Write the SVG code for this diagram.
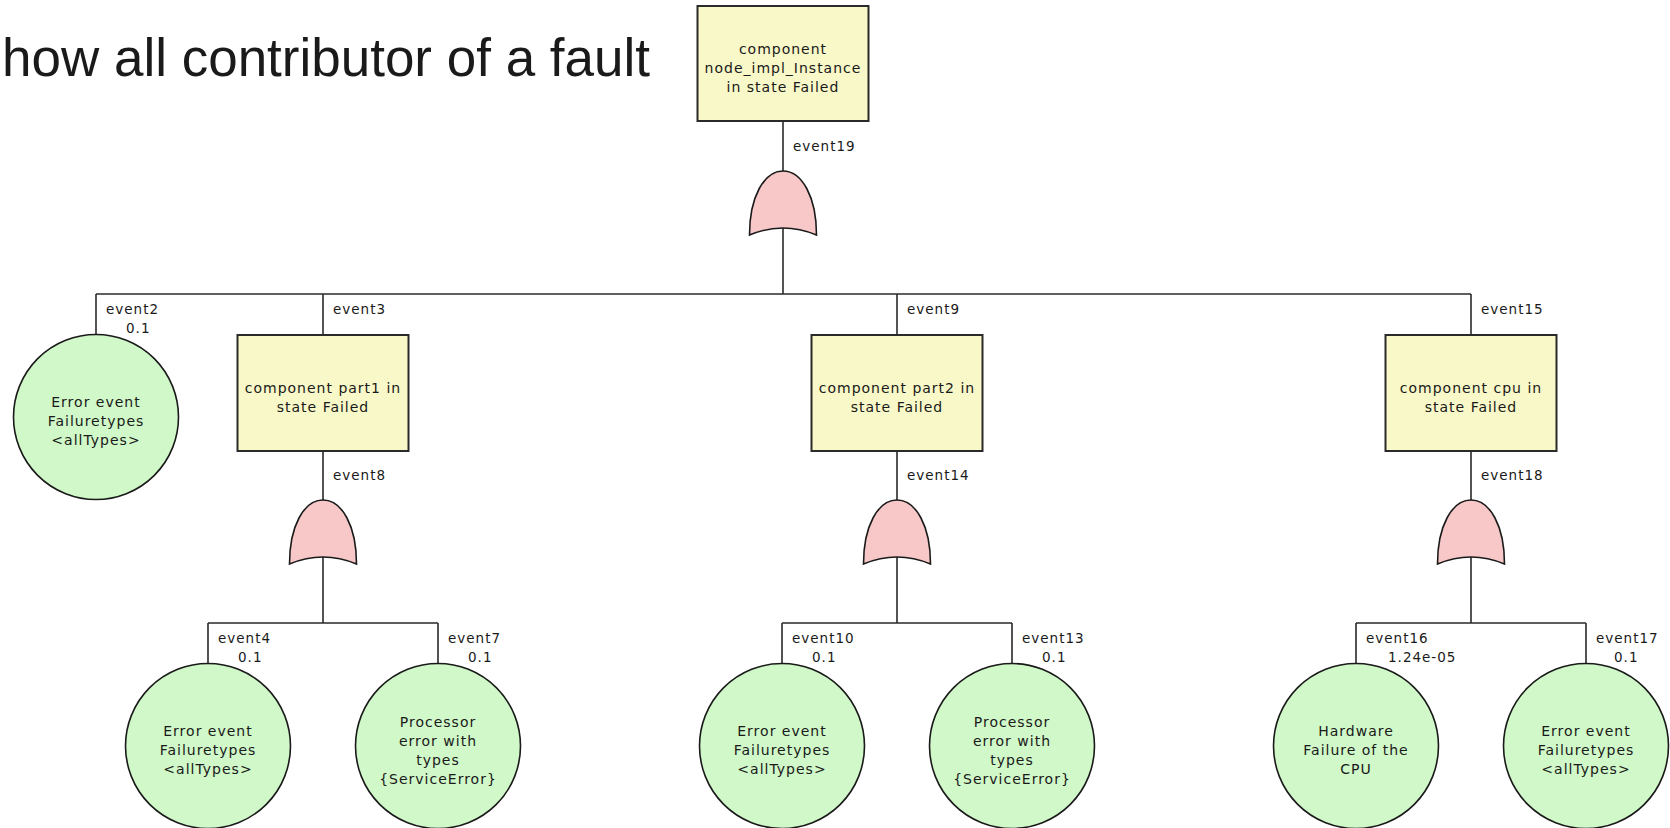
<svg xmlns="http://www.w3.org/2000/svg" width="1670" height="828" viewBox="0 0 1670 828">
  <style>
    .title { font-family: "Liberation Sans", Arial, sans-serif; font-size: 54px; fill: #1a1a1a; }
    .conn { fill: none; stroke: #2a2a2a; stroke-width: 1.6; }
    .box { fill: #f8f8c8; stroke: #2a2a2a; stroke-width: 2; }
    .basic { fill: #d0f8c8; stroke: #1a1a1a; stroke-width: 1.6; }
    .gate { fill: #f8c8c8; stroke: #1a1a1a; stroke-width: 1.6; }
    .node-text { font-family: "DejaVu Sans", Verdana, sans-serif; font-size: 14px; letter-spacing: 1px; fill: #1a1a1a; text-anchor: middle; }
    .lbl { font-family: "DejaVu Sans", Verdana, sans-serif; font-size: 13.5px; letter-spacing: 1px; fill: #1a1a1a; }
  </style>
  <defs>
    <!-- OR gate symbol, origin at the apex -->
    <path id="or-gate" d="M -33.5,64 C -33.5,26 -19,0 0,0 C 19,0 33.5,26 33.5,64 Q 0,50 -33.5,64 Z"/>
  </defs>

  <rect width="1670" height="828" fill="#ffffff"/>

  <text class="title" x="2" y="76" textLength="648" lengthAdjust="spacingAndGlyphs">how all contributor of a fault</text>

  <!-- connectors -->
  <g id="connectors" class="conn">
    <path d="M783,121 V294"/>
    <path d="M96,294 H1471"/>
    <path d="M96,294 V335"/>
    <path d="M323,294 V335"/>
    <path d="M897,294 V335"/>
    <path d="M1471,294 V335"/>

    <path d="M323,451 V623 M208,623 H438 M208,623 V664 M438,623 V664"/>
    <path d="M897,451 V623 M782,623 H1012 M782,623 V664 M1012,623 V664"/>
    <path d="M1471,451 V623 M1356,623 H1586 M1356,623 V664 M1586,623 V664"/>
  </g>

  <!-- top event -->
  <g id="event19">
    <rect class="box" x="697.5" y="6" width="171" height="115"/>
    <text class="node-text" x="783" y="53.5">component</text>
    <text class="node-text" x="783" y="72.5">node_impl_Instance</text>
    <text class="node-text" x="783" y="91.5">in state Failed</text>
    <text class="lbl" x="793" y="151">event19</text>
    <use href="#or-gate" class="gate" x="783" y="171"/>
  </g>

  <g id="event2">
    <circle class="basic" cx="96" cy="417" r="82.5"/>
    <text class="node-text" x="96" y="407">Error event</text>
    <text class="node-text" x="96" y="426">Failuretypes</text>
    <text class="node-text" x="96" y="445">&lt;allTypes&gt;</text>
    <text class="lbl" x="106" y="314">event2</text>
    <text class="lbl" x="126" y="333">0.1</text>
  </g>

  <g id="event3">
    <rect class="box" x="237.5" y="335" width="171" height="116"/>
    <text class="node-text" x="323" y="392.5">component part1 in</text>
    <text class="node-text" x="323" y="411.5">state Failed</text>
    <text class="lbl" x="333" y="314">event3</text>
    <text class="lbl" x="333" y="480">event8</text>
    <use href="#or-gate" class="gate" x="323" y="500"/>
  </g>

  <g id="event9">
    <rect class="box" x="811.5" y="335" width="171" height="116"/>
    <text class="node-text" x="897" y="392.5">component part2 in</text>
    <text class="node-text" x="897" y="411.5">state Failed</text>
    <text class="lbl" x="907" y="314">event9</text>
    <text class="lbl" x="907" y="480">event14</text>
    <use href="#or-gate" class="gate" x="897" y="500"/>
  </g>

  <g id="event15">
    <rect class="box" x="1385.5" y="335" width="171" height="116"/>
    <text class="node-text" x="1471" y="392.5">component cpu in</text>
    <text class="node-text" x="1471" y="411.5">state Failed</text>
    <text class="lbl" x="1481" y="314">event15</text>
    <text class="lbl" x="1481" y="480">event18</text>
    <use href="#or-gate" class="gate" x="1471" y="500"/>
  </g>

  <g id="event4">
    <circle class="basic" cx="208" cy="746" r="82.5"/>
    <text class="node-text" x="208" y="736">Error event</text>
    <text class="node-text" x="208" y="755">Failuretypes</text>
    <text class="node-text" x="208" y="774">&lt;allTypes&gt;</text>
    <text class="lbl" x="218" y="643">event4</text>
    <text class="lbl" x="238" y="662">0.1</text>
  </g>

  <g id="event7">
    <circle class="basic" cx="438" cy="746" r="82.5"/>
    <text class="node-text" x="438" y="726.5">Processor</text>
    <text class="node-text" x="438" y="745.5">error with</text>
    <text class="node-text" x="438" y="764.5">types</text>
    <text class="node-text" x="438" y="783.5">{ServiceError}</text>
    <text class="lbl" x="448" y="643">event7</text>
    <text class="lbl" x="468" y="662">0.1</text>
  </g>

  <g id="event10">
    <circle class="basic" cx="782" cy="746" r="82.5"/>
    <text class="node-text" x="782" y="736">Error event</text>
    <text class="node-text" x="782" y="755">Failuretypes</text>
    <text class="node-text" x="782" y="774">&lt;allTypes&gt;</text>
    <text class="lbl" x="792" y="643">event10</text>
    <text class="lbl" x="812" y="662">0.1</text>
  </g>

  <g id="event13">
    <circle class="basic" cx="1012" cy="746" r="82.5"/>
    <text class="node-text" x="1012" y="726.5">Processor</text>
    <text class="node-text" x="1012" y="745.5">error with</text>
    <text class="node-text" x="1012" y="764.5">types</text>
    <text class="node-text" x="1012" y="783.5">{ServiceError}</text>
    <text class="lbl" x="1022" y="643">event13</text>
    <text class="lbl" x="1042" y="662">0.1</text>
  </g>

  <g id="event16">
    <circle class="basic" cx="1356" cy="746" r="82.5"/>
    <text class="node-text" x="1356" y="736">Hardware</text>
    <text class="node-text" x="1356" y="755">Failure of the</text>
    <text class="node-text" x="1356" y="774">CPU</text>
    <text class="lbl" x="1366" y="643">event16</text>
    <text class="lbl" x="1388" y="662">1.24e-05</text>
  </g>

  <g id="event17">
    <circle class="basic" cx="1586" cy="746" r="82.5"/>
    <text class="node-text" x="1586" y="736">Error event</text>
    <text class="node-text" x="1586" y="755">Failuretypes</text>
    <text class="node-text" x="1586" y="774">&lt;allTypes&gt;</text>
    <text class="lbl" x="1596" y="643">event17</text>
    <text class="lbl" x="1614" y="662">0.1</text>
  </g>
</svg>
